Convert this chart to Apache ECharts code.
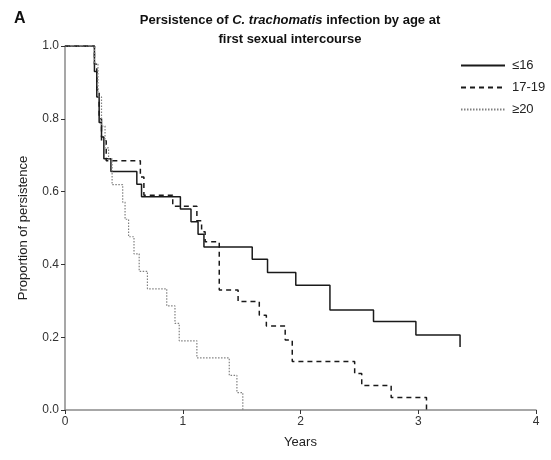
<!DOCTYPE html>
<html>
<head>
<meta charset="utf-8">
<script src="https://cdn.jsdelivr.net/npm/echarts@6/dist/echarts.min.js"></script>
<style>
  html, body { margin: 0; padding: 0; background: #fff; }
  #main { width: 551px; height: 460px; }
</style>
</head>
<body>
<div id="main"></div>
<script>
// Kaplan-Meier steps: [years, proportion]
var under16T = [0, 0.25, 0.27, 0.29, 0.31, 0.33, 0.39, 0.61, 0.65, 0.98, 1.07, 1.13, 1.18, 1.59, 1.72, 1.96, 2.25, 2.62, 2.98, 3.355];
var under16P = [1, 0.93, 0.86, 0.79, 0.75, 0.69, 0.655, 0.62, 0.586, 0.552, 0.517, 0.483, 0.448, 0.414, 0.378, 0.343, 0.275, 0.243, 0.206, 0.173];

var mid17T = [0, 0.25, 0.27, 0.29, 0.31, 0.35, 0.64, 0.67, 0.915, 1.12, 1.16, 1.19, 1.31, 1.47, 1.65, 1.71, 1.87, 1.93, 2.46, 2.52, 2.77, 3.07];
var mid17P = [1, 0.95, 0.88, 0.8, 0.74, 0.685, 0.64, 0.59, 0.56, 0.52, 0.49, 0.462, 0.33, 0.298, 0.26, 0.231, 0.192, 0.133, 0.1, 0.067, 0.034, 0];

var over20T = [0, 0.25, 0.28, 0.31, 0.34, 0.37, 0.40, 0.49, 0.51, 0.54, 0.586, 0.63, 0.70, 0.864, 0.934, 0.97, 1.12, 1.395, 1.46, 1.51];
var over20P = [1, 0.95, 0.86, 0.78, 0.72, 0.69, 0.619, 0.571, 0.524, 0.476, 0.429, 0.381, 0.333, 0.286, 0.238, 0.190, 0.143, 0.095, 0.048, 0];

var groupNames = ['≤16', '17-19', '≥20'];

function pairs(t, p) {
  var out = [];
  for (var i = 0; i < t.length; i++) out.push([t[i], p[i]]);
  return out;
}

var font = 'Liberation Sans, Arial, sans-serif';
var axisGray = '#8a8a8a';

var option = {
  backgroundColor: '#fff',
  animation: false,
  textStyle: { fontFamily: font },
  title: [
    {
      text: 'A',
      left: 9, top: 6,
      textStyle: { fontSize: 16, fontWeight: 'bold', color: '#111', fontFamily: font }
    },
    {
      text: '{b|Persistence of }{i|C. trachomatis}{b| infection by age at}',
      left: 285, top: 9, textAlign: 'center',
      textStyle: {
        rich: {
          b: { fontSize: 13, fontWeight: 'bold', color: '#111', fontFamily: font },
          i: { fontSize: 13, fontWeight: 'bold', fontStyle: 'italic', color: '#111', fontFamily: font }
        }
      }
    },
    {
      text: 'first sexual intercourse',
      left: 285, top: 28, textAlign: 'center',
      textStyle: { fontSize: 13, fontWeight: 'bold', color: '#111', fontFamily: font }
    }
  ],
  legend: {
    orient: 'vertical',
    left: 455, top: 54,
    itemWidth: 44, itemHeight: 12, itemGap: 9,
    itemStyle: { opacity: 0 },
    textStyle: { fontSize: 13, color: '#222', fontFamily: font, padding: [0, 0, 0, 2] },
    data: groupNames
  },
  grid: { left: 65, right: 15, top: 46, bottom: 50 },
  xAxis: {
    type: 'value', min: 0, max: 4, interval: 1,
    name: 'Years', nameLocation: 'middle', nameGap: 26,
    nameTextStyle: { fontSize: 13, color: '#222' },
    axisLine: { lineStyle: { color: axisGray, width: 1.5 } },
    axisTick: { lineStyle: { color: '#333' }, length: 4 },
    axisLabel: { fontSize: 12, color: '#333', margin: 6 },
    splitLine: { show: false }
  },
  yAxis: {
    type: 'value', min: 0, max: 1, interval: 0.2,
    name: 'Proportion of persistence', nameLocation: 'middle', nameGap: 35,
    nameTextStyle: { fontSize: 13, color: '#222' },
    axisLine: { show: true, lineStyle: { color: axisGray, width: 1.5 } },
    axisTick: { show: true, lineStyle: { color: '#333' }, length: 4 },
    axisLabel: { fontSize: 12, color: '#333', margin: 6, formatter: function (v) { return v.toFixed(1); } },
    splitLine: { show: false }
  },
  series: [
    {
      name: groupNames[0], type: 'line', step: 'end', symbol: 'none',
      data: pairs(under16T, under16P),
      lineStyle: { color: '#1a1a1a', width: 1.5, type: 'solid' },
      itemStyle: { color: '#1a1a1a' }
    },
    {
      name: groupNames[1], type: 'line', step: 'end', symbol: 'none',
      data: pairs(mid17T, mid17P),
      lineStyle: { color: '#1a1a1a', width: 1.5, type: [5, 4] },
      itemStyle: { color: '#1a1a1a' }
    },
    {
      name: groupNames[2], type: 'line', step: 'end', symbol: 'none',
      data: pairs(over20T, over20P),
      lineStyle: { color: '#808080', width: 1.2, type: [1.5, 1.5] },
      itemStyle: { color: '#808080' }
    }
  ]
};

var chart = echarts.init(document.getElementById('main'));
chart.setOption(option);
</script>
</body>
</html>
